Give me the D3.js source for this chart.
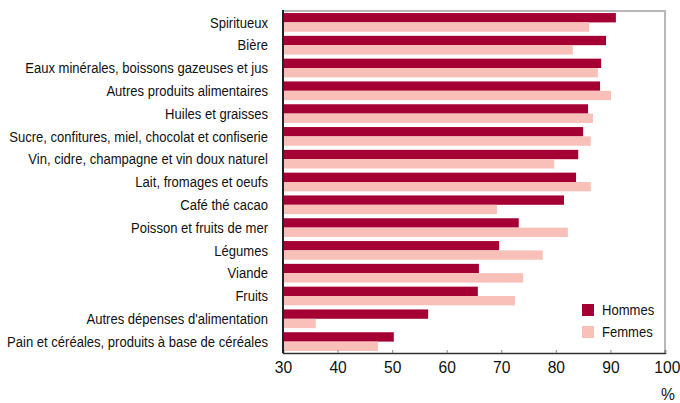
<!DOCTYPE html>
<html>
<head>
<meta charset="utf-8">
<script src="https://cdn.jsdelivr.net/npm/d3@7"></script>
<style>
	body { margin: 0; background: #fff; }
	svg { display: block; font-family: "Liberation Sans", Arial, sans-serif; }
</style>
</head>
<body>
<div id="chart"></div>
<script>
// Data (%)
const categories = [
	"Spiritueux",
	"Bière",
	"Eaux minérales, boissons gazeuses et jus",
	"Autres produits alimentaires",
	"Huiles et graisses",
	"Sucre, confitures, miel, chocolat et confiserie",
	"Vin, cidre, champagne et vin doux naturel",
	"Lait, fromages et oeufs",
	"Café thé cacao",
	"Poisson et fruits de mer",
	"Légumes",
	"Viande",
	"Fruits",
	"Autres dépenses d'alimentation",
	"Pain et céréales, produits à base de céréales"
];
const hommes = [91.0, 89.2, 88.3, 88.1, 85.9, 85.0, 84.1, 83.7, 81.5, 73.2, 69.6, 65.9, 65.7, 56.6, 50.3];
const femmes = [86.1, 83.1, 87.7, 90.1, 86.8, 86.4, 79.7, 86.4, 69.2, 82.2, 77.6, 74.0, 72.5, 36.0, 47.4];
const seriesNames = ["Hommes", "Femmes"];
const tickValues = [30, 40, 50, 60, 70, 80, 90, 100];
const colors = ["#a50034", "#f9c0b9"];

const width = 680, height = 403;
const margin = {top: 11, right: 15, bottom: 50, left: 283};
const innerW = width - margin.left - margin.right,
	innerH = height - margin.top - margin.bottom;

// narrow-looking text (the original uses a condensed Helvetica)
const narrow = 0.87;

const svg = d3.select("#chart").append("svg")
	.attr("width", width).attr("height", height);

const chart = svg.append("g")
	.attr("transform", `translate(${margin.left}, ${margin.top})`);

// Scales
const x = d3.scaleLinear([30, 100], [0, innerW]);
const y = d3.scaleBand(categories, [0, innerH]).paddingInner(0.18).paddingOuter(0.09);
const ySub = d3.scaleBand(seriesNames, [0, y.bandwidth()]);

// Frame (top + right in grey)
chart.append("path")
	.attr("d", `M0,0H${innerW}V${innerH}`)
	.attr("fill", "none").attr("stroke", "#b8b8b8").attr("stroke-width", 2);

// Bars
const rows = categories.map((c, i) => ({cat: c, values: [hommes[i], femmes[i]]}));
chart.selectAll("g.row")
	.data(rows)
	.join("g")
	.classed("row", true)
	.attr("transform", d => `translate(0, ${y(d.cat)})`)
	.selectAll("rect")
	.data(d => d.values.map((v, j) => ({v, s: seriesNames[j], c: colors[j]})))
	.join("rect")
	.attr("x", 0)
	.attr("y", d => ySub(d.s))
	.attr("width", d => x(d.v) - x(30))
	.attr("height", ySub.bandwidth())
	.attr("fill", d => d.c);

// Category labels
chart.selectAll("text.cat")
	.data(categories)
	.join("text")
	.classed("cat", true)
	.attr("transform", d => `translate(-15, ${y(d) + y.bandwidth() / 2}) scale(${narrow}, 1)`)
	.attr("dy", "0.35em")
	.attr("text-anchor", "end")
	.attr("font-size", 15)
	.attr("fill", "#111")
	.text(d => d);

// X axis
const axisX = chart.append("g")
	.attr("transform", `translate(0, ${innerH})`)
	.call(d3.axisBottom(x).tickValues(tickValues).tickSize(-3).tickPadding(8));
axisX.select(".domain").attr("stroke", "#333").attr("stroke-width", 1.5);
axisX.selectAll(".tick line").attr("stroke", "#888");
axisX.selectAll(".tick text")
	.attr("font-size", 17).attr("fill", "#111")
	.attr("font-family", "inherit")
	.attr("transform", "scale(0.92, 1)");
axisX.selectAll(".tick").filter(d => d === 100).select("text").attr("dx", 2);

// Left axis line
chart.append("line")
	.attr("x1", 0).attr("x2", 0).attr("y1", -1).attr("y2", innerH)
	.attr("stroke", "#222").attr("stroke-width", 2);

// Unit
svg.append("text")
	.attr("transform", `translate(${margin.left + innerW + 3}, ${height - 3}) scale(0.92, 1)`)
	.attr("text-anchor", "middle").attr("font-size", 17).attr("fill", "#111")
	.text("%");

// Legend
const legend = svg.append("g")
	.attr("transform", `translate(582, 304)`)
	.selectAll("g")
	.data(seriesNames)
	.join("g")
	.attr("transform", (d, i) => `translate(0, ${i * 22})`);
legend.append("rect")
	.attr("width", 12).attr("height", 12)
	.attr("fill", (d, i) => colors[i]);
legend.append("text")
	.attr("transform", `translate(20, 6) scale(${narrow}, 1)`)
	.attr("dy", "0.35em")
	.attr("font-size", 15).attr("fill", "#111")
	.text(d => d);
</script>
</body>
</html>
